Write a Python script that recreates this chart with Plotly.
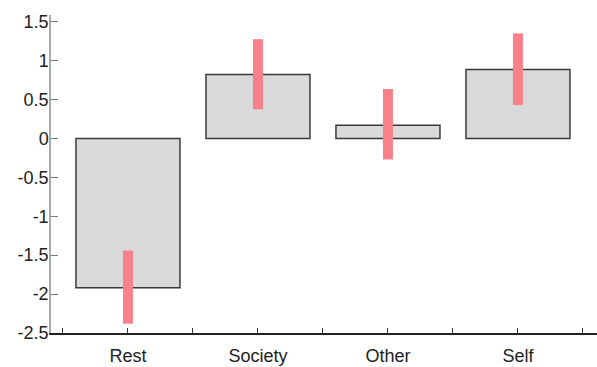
import plotly.graph_objects as go

categories = ["Rest", "Society", "Other", "Self"]
means = [-1.92, 0.82, 0.17, 0.885]
err_low = [-2.38, 0.375, -0.27, 0.43]
err_high = [-1.44, 1.275, 0.635, 1.35]

xpos = list(range(len(categories)))

fig = go.Figure()
fig.add_trace(go.Bar(
    x=xpos, y=means, width=0.8,
    marker=dict(color="#d9d9d9", line=dict(color="#3a3a3a", width=1.5)),
    showlegend=False,
))
for i in xpos:
    fig.add_trace(go.Scatter(
        x=[i, i], y=[err_low[i], err_high[i]], mode="lines",
        line=dict(color="#f8808a", width=10), showlegend=False,
    ))

tickvals = [-0.5 + 0.5 * k for k in range(9)]
ticktext = []
for v in tickvals:
    if abs(v - round(v)) < 1e-9:
        ticktext.append(categories[int(round(v))])
    else:
        ticktext.append("")

fig.update_layout(
    width=597, height=367,
    margin=dict(l=51, r=0, t=15, b=34),
    paper_bgcolor="white", plot_bgcolor="white",
    font=dict(family="Liberation Sans, Arial, sans-serif", size=18, color="#222"),
    bargap=0.2,
)
fig.update_xaxes(
    range=[-0.592, 3.608], tickvals=tickvals, ticktext=ticktext,
    ticks="inside", ticklen=5, tickcolor="#333", tickwidth=1.2,
    showline=True, linecolor="#222", linewidth=1.5,
    showgrid=False, zeroline=False, automargin=False,
    ticklabelstandoff=6,
)
fig.update_yaxes(
    range=[-2.5, 1.586], tickvals=[-2.5, -2, -1.5, -1, -0.5, 0, 0.5, 1, 1.5],
    ticktext=["-2.5", "-2", "-1.5", "-1", "-0.5", "0", "0.5", "1", "1.5"],
    ticks="inside", ticklen=7, tickcolor="#777", tickwidth=1.2,
    showline=True, linecolor="#aaa", linewidth=1.5,
    showgrid=False, zeroline=False, automargin=False,
    ticklabelstandoff=-3,
)

fig.write_html("out.html", config={"displayModeBar": False},
               post_script="document.body.style.margin='0';")
